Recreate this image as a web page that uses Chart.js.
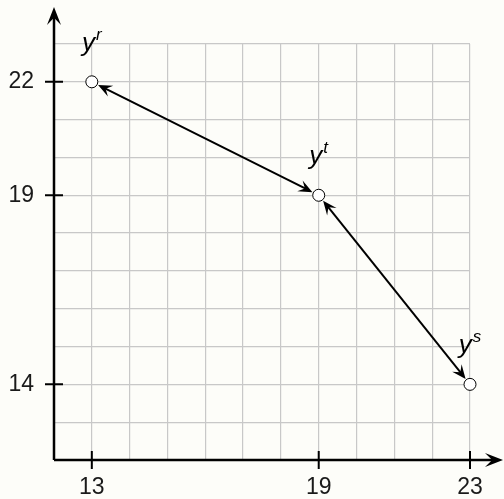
<!DOCTYPE html>
<html>
<head>
<meta charset="utf-8">
<script src="https://cdn.jsdelivr.net/npm/chart.js@4.4.1/dist/chart.umd.min.js"></script>
<style>
  html, body { margin: 0; padding: 0; background: #fdfdf9; }
  #wrap { width: 504px; height: 499px; }
</style>
</head>
<body>
<div id="wrap"><canvas id="chart" width="504" height="499"></canvas></div>
<script>
// data
const names = ['r', 't', 's'];
const xValues = [13, 19, 23];
const yValues = [22, 19, 14];
const xTicks = [13, 19, 23];
const yTicks = [14, 19, 22];
// arrows go between these pairs of points (indices)
const links = [[0, 1], [1, 2]];

const points = xValues.map((x, i) => ({ x: x, y: yValues[i] }));

function arrowHead(c, tx, ty, ang, len, half) {
  // barbed arrow head with a notch
  const cos = Math.cos(ang), sin = Math.sin(ang);
  const bx = tx - cos * len, by = ty - sin * len;
  const nx = tx - cos * len * 0.6, ny = ty - sin * len * 0.6;
  c.beginPath();
  c.moveTo(tx, ty);
  c.lineTo(bx - sin * half, by + cos * half);
  c.lineTo(nx, ny);
  c.lineTo(bx + sin * half, by - cos * half);
  c.closePath();
  c.fill();
}

const bgPlugin = {
  id: 'bg',
  beforeDraw(chart) {
    const c = chart.ctx;
    c.save();
    c.fillStyle = '#fdfdf9';
    c.fillRect(0, 0, chart.width, chart.height);
    c.restore();
  }
};

const drawPlugin = {
  id: 'extras',
  beforeDatasetsDraw(chart) {
    const c = chart.ctx;
    const xs = chart.scales.x, ys = chart.scales.y;
    c.save();
    c.strokeStyle = '#000';
    c.fillStyle = '#000';

    // axes
    const ox = xs.getPixelForValue(xs.min);
    const oy = ys.getPixelForValue(ys.min);
    c.lineWidth = 2.5;
    c.beginPath();
    c.moveTo(ox, oy);
    c.lineTo(ox, 14);
    c.moveTo(ox, oy);
    c.lineTo(chart.width - 8, oy);
    c.stroke();
    arrowHead(c, ox, 7, -Math.PI / 2, 18, 7);
    arrowHead(c, chart.width - 1, oy, 0, 18, 7);

    // tick marks
    c.lineWidth = 2;
    c.beginPath();
    xTicks.forEach(v => {
      const px = xs.getPixelForValue(v);
      c.moveTo(px, oy - 9);
      c.lineTo(px, oy + 9);
    });
    yTicks.forEach(v => {
      const py = ys.getPixelForValue(v);
      c.moveTo(ox - 9, py);
      c.lineTo(ox + 9, py);
    });
    c.stroke();

    // double headed arrows between points
    const r = 7;
    c.lineWidth = 2;
    links.forEach(([i, j]) => {
      const x1 = xs.getPixelForValue(xValues[i]), y1 = ys.getPixelForValue(yValues[i]);
      const x2 = xs.getPixelForValue(xValues[j]), y2 = ys.getPixelForValue(yValues[j]);
      const ang = Math.atan2(y2 - y1, x2 - x1);
      const sx = x1 + Math.cos(ang) * r, sy = y1 + Math.sin(ang) * r;
      const ex = x2 - Math.cos(ang) * r, ey = y2 - Math.sin(ang) * r;
      c.beginPath();
      c.moveTo(sx + Math.cos(ang) * 6, sy + Math.sin(ang) * 6);
      c.lineTo(ex - Math.cos(ang) * 6, ey - Math.sin(ang) * 6);
      c.stroke();
      arrowHead(c, ex, ey, ang, 14, 6);
      arrowHead(c, sx, sy, ang + Math.PI, 14, 6);
    });
    c.restore();
  },
  afterDatasetsDraw(chart) {
    const c = chart.ctx;
    const xs = chart.scales.x, ys = chart.scales.y;
    c.save();
    c.fillStyle = '#000';
    c.textBaseline = 'alphabetic';
    names.forEach((n, i) => {
      const px = xs.getPixelForValue(xValues[i]);
      const py = ys.getPixelForValue(yValues[i]);
      c.font = 'italic 26px "Liberation Sans", Arial, sans-serif';
      const w1 = c.measureText('y').width;
      c.font = 'italic 17px "Liberation Sans", Arial, sans-serif';
      const w2 = c.measureText(n).width;
      const left = px - (w1 + w2 + 1) / 2;
      c.font = 'italic 26px "Liberation Sans", Arial, sans-serif';
      c.fillText('y', left, py - 31);
      c.font = 'italic 17px "Liberation Sans", Arial, sans-serif';
      c.fillText(n, left + w1 + 1, py - 42);
    });
    c.restore();
  }
};

const ctx = document.getElementById('chart');

new Chart(ctx, {
  type: 'scatter',
  data: {
    datasets: [{
      data: points,
      clip: false,
      pointRadius: 6,
      pointHoverRadius: 6,
      pointBackgroundColor: '#fff',
      pointBorderColor: '#000',
      pointBorderWidth: 1
    }]
  },
  options: {
    responsive: false,
    animation: false,
    events: [],
    layout: { padding: { left: 0, top: 44, right: 34, bottom: 0 } },
    plugins: { legend: { display: false }, tooltip: { enabled: false } },
    scales: {
      x: {
        type: 'linear', min: 12, max: 23,
        afterFit: s => { s.height = 39; },
        border: { display: false },
        grid: { color: '#c8c8c8', lineWidth: 1.2, drawTicks: false },
        ticks: {
          stepSize: 1, autoSkip: false, padding: 14, color: '#1a1a1a',
          font: { family: '"Liberation Sans", Arial, sans-serif', size: 23 },
          callback: v => xTicks.includes(v) ? String(v) : ''
        }
      },
      y: {
        type: 'linear', min: 12, max: 23,
        afterFit: s => { s.width = 54; },
        border: { display: false },
        grid: { color: '#c8c8c8', lineWidth: 1.2, drawTicks: false },
        ticks: {
          stepSize: 1, autoSkip: false, padding: 20, color: '#1a1a1a',
          font: { family: '"Liberation Sans", Arial, sans-serif', size: 23 },
          callback: v => yTicks.includes(v) ? String(v) : ''
        }
      }
    }
  },
  plugins: [bgPlugin, drawPlugin]
});
</script>
</body>
</html>
